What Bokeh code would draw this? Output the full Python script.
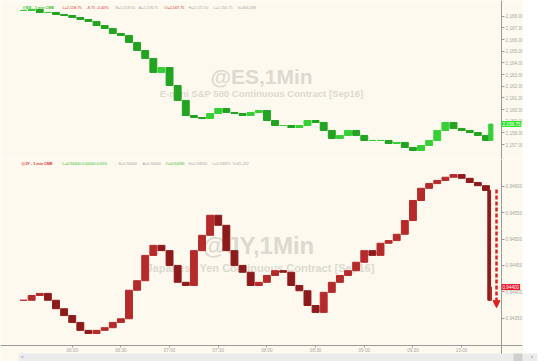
from bokeh.plotting import figure
from bokeh.layouts import column
from bokeh.models import (ColumnDataSource, Range1d, FixedTicker, NumeralTickFormatter,
                          Label, Arrow, NormalHead, BoxAnnotation)
from bokeh.embed import file_html
from bokeh.resources import INLINE

# ---------------- data (minutes since midnight, prices) ----------------
es_times = [330, 335, 340, 345, 350, 355, 360, 365, 370, 375, 380, 385, 390, 395, 400, 405, 410,
            415, 420, 425, 430, 435, 440, 445, 450, 455, 460, 465, 470, 475, 480, 485, 490, 495,
            500, 505, 510, 515, 520, 525, 530, 535, 540, 545, 550, 555, 560, 565, 570, 575, 580,
            585, 590, 595, 600, 605, 610, 615, 618]
es_close = [2168.49, 2168.57, 2168.32, 2168.32, 2168.15, 2168.06, 2167.89, 2167.72, 2167.55,
            2167.20, 2166.95, 2166.52, 2166.35, 2165.75, 2165.06, 2164.38, 2163.18, 2163.60,
            2162.06, 2160.78, 2159.49, 2159.32, 2159.23, 2159.66, 2160.09, 2159.75, 2159.66,
            2159.49, 2159.75, 2159.92, 2159.06, 2158.63, 2158.63, 2158.46, 2158.63, 2159.06,
            2158.89, 2158.21, 2157.52, 2157.78, 2158.21, 2157.78, 2157.35, 2157.35, 2157.35,
            2157.09, 2157.18, 2156.75, 2156.49, 2156.92, 2157.35, 2158.21, 2158.89, 2158.38,
            2158.21, 2158.03, 2157.78, 2157.35, 2158.75]
jy_times = [330, 335, 340, 345, 350, 355, 360, 365, 370, 375, 380, 385, 390, 395, 400, 405, 410,
            415, 420, 425, 430, 435, 440, 445, 450, 455, 460, 465, 470, 475, 480, 485, 490, 495,
            500, 505, 510, 515, 520, 525, 530, 535, 540, 545, 550, 555, 560, 565, 570, 575, 580,
            585, 590, 595, 600, 605, 610, 615, 617, 618]
jy_close = [0.94384, 0.94393, 0.94397, 0.94384, 0.94368, 0.94355, 0.94342, 0.94327, 0.94321,
            0.94327, 0.94332, 0.94342, 0.94349, 0.94403, 0.94421, 0.94469, 0.94488, 0.94478,
            0.94450, 0.94418, 0.94412, 0.94478, 0.94507, 0.94545, 0.94526, 0.94478, 0.94450,
            0.94437, 0.94412, 0.94418, 0.94431, 0.94440, 0.94437, 0.94412, 0.94402, 0.94374,
            0.94361, 0.94399, 0.94418, 0.94431, 0.94440, 0.94456, 0.94478, 0.94469, 0.94492,
            0.94497, 0.94509, 0.94535, 0.94573, 0.94596, 0.94605, 0.94611, 0.94617, 0.94622,
            0.94615, 0.94607, 0.94601, 0.94592, 0.94384, 0.94409]

x_tick_labels = ["06:00", "06:30", "07:00", "07:30", "08:00", "08:30", "09:00", "09:30", "10:00"]
es_ticks = [2157, 2158, 2159, 2160, 2161, 2162, 2163, 2164, 2165, 2166, 2167, 2168]
jy_ticks = [0.9435, 0.9440, 0.9445, 0.9450, 0.9455, 0.9460]
es_last_label = "2,158.75"
jy_last_label = "0.94400"

CREAM = "#fdf9ee"
AX = "#9a9a9a"
FONT = "Liberation Sans"
WM = "#dcd9d0"
TICKFS = "4.6px"


def to_min(s):
    h, m = s.split(":")
    return int(h) * 60 + int(m)


x_ticks = [to_min(s) for s in x_tick_labels]
XR = (315.8, 651.7)      # visible time window (minutes), full page width
AXIS_AT = 624.65         # price scale sits at this time position
PANEL_END = 637.5        # chart background ends here (white page beyond)
TIME_AXIS_AT = 0.942983  # time axis sits at this level of the lower panel
STRIP_TOP = 0.942831


def candles(times, closes):
    o = [closes[0]] + closes[:-1]
    w = []
    for i in range(len(times)):
        dt = times[i] - times[i - 1] if i > 0 else times[1] - times[0]
        w.append(dt * 0.85)
    return dict(x=times, top=[max(a, b) for a, b in zip(o, closes)],
                bottom=[min(a, b) for a, b in zip(o, closes)],
                up=[c >= a for a, c in zip(o, closes)], w=w)


def style_fig(p):
    p.background_fill_color = CREAM
    p.border_fill_color = CREAM
    p.outline_line_color = None
    p.grid.visible = False
    ax = p.yaxis[0]
    ax.fixed_location = AXIS_AT
    ax.axis_line_color = AX
    ax.major_tick_line_color = AX
    ax.major_tick_out = 3
    ax.major_tick_in = 0
    ax.minor_tick_line_color = None
    ax.major_label_text_font = FONT
    ax.major_label_text_font_size = TICKFS
    ax.major_label_text_color = "#a8a8a8"
    ax.major_label_standoff = 1
    p.add_layout(BoxAnnotation(left=PANEL_END, fill_color="white", fill_alpha=1, line_color=None))


def header(p, items, y):
    for i, (t, x, c) in enumerate(items):
        p.add_layout(Label(x=x, y=y, x_units="screen", y_units="screen", text=t, text_font=FONT,
                           text_font_style="bold" if i == 0 else "normal", text_font_size="3.8px",
                           text_color=c, text_baseline="middle"))


def watermark(p, x, y, t, size):
    p.add_layout(Label(x=x, y=y, x_units="screen", y_units="screen", text=t, text_font=FONT,
                       text_font_style="bold", text_font_size=size, text_color=WM,
                       text_align="center", text_baseline="middle", level="underlay"))


# ---------------- top: ES ----------------
p1 = figure(frame_width=545, frame_height=159, x_range=Range1d(*XR), y_range=Range1d(2155.718, 2169.345),
            x_axis_location=None, y_axis_location="right", output_backend="svg",
            toolbar_location=None, min_border=0)
style_fig(p1)
p1.yaxis.ticker = FixedTicker(ticks=es_ticks)
p1.yaxis.formatter = NumeralTickFormatter(format="0,0.00")

watermark(p1, 261, 83, "@ES,1Min", "21px")
watermark(p1, 261, 66, "E-mini S&P 500 Continuous Contract [Sep16]", "9.5px")

d = candles(es_times, es_close)
d["color"] = ["#36cf36" if u else "#22a322" for u in d["up"]]
p1.vbar(x="x", top="top", bottom="bottom", width="w", color="color", source=ColumnDataSource(d))

header(p1, [("@ES - 1 min CME", 22, "#2fbf2f"), ("L=2,158.75", 62, "#e03030"), ("-8.75", 86, "#e03030"),
            ("-0.40%", 96, "#e03030"), ("B=2,158.50", 115, "#aaaaaa"), ("A=2,158.75", 138, "#aaaaaa"),
            ("O=2,167.75", 164, "#e03030"), ("H=2,172.50", 188, "#aaaaaa"), ("L=2,156.75", 213, "#aaaaaa"),
            ("V=466,588", 237, "#aaaaaa")], 152)

p1.add_layout(Label(x=501, y=es_close[-1], x_units="screen", y_units="data", text=es_last_label,
                    text_font=FONT, text_font_size=TICKFS, text_color="white",
                    background_fill_color="#2ee52e", text_baseline="middle", padding=1))

# ---------------- bottom: JY ----------------
p2 = figure(frame_width=545, frame_height=202, x_range=p1.x_range, y_range=Range1d(0.94268, 0.946506),
            y_axis_location="right", output_backend="svg", toolbar_location=None, min_border=0)
style_fig(p2)
p2.yaxis.ticker = FixedTicker(ticks=jy_ticks)
p2.yaxis.formatter = NumeralTickFormatter(format="0.00000")
xa = p2.xaxis[0]
xa.fixed_location = TIME_AXIS_AT
xa.ticker = FixedTicker(ticks=x_ticks)
xa.major_label_overrides = {float(t): s for t, s in zip(x_ticks, x_tick_labels)}
xa.axis_line_color = AX
xa.major_tick_line_color = AX
xa.major_tick_out = 2
xa.major_tick_in = 0
xa.minor_tick_line_color = None
xa.major_label_text_font = FONT
xa.major_label_text_font_size = TICKFS
xa.major_label_text_color = "#a8a8a8"
xa.major_label_standoff = 0

watermark(p2, 258, 116, "@JY,1Min", "24px")
watermark(p2, 260, 94, "Japanese Yen Continuous Contract [Sep16]", "11px")

d2 = candles(jy_times, jy_close)
d2["color"] = ["#b52a2a" if u else "#8e1b1b" for u in d2["up"]]
p2.vbar(x="x", top="top", bottom="bottom", width="w", color="color", source=ColumnDataSource(d2))

header(p2, [("@JY - 1 min CME", 21, "#e03030"), ("L=0.94400 0.00040 0.05%", 62, "#2fbf2f"),
            ("B=0.94400", 118, "#aaaaaa"), ("A=0.94400", 142, "#aaaaaa"), ("O=0.94280", 165, "#2fbf2f"),
            ("H=0.94690", 188, "#aaaaaa"), ("L=0.93875", 212, "#aaaaaa"), ("V=65,262", 232, "#aaaaaa")], 198)

p2.add_layout(Label(x=501, y=jy_close[-1], x_units="screen", y_units="data", text=jy_last_label,
                    text_font=FONT, text_font_size=TICKFS, text_color="white",
                    background_fill_color="#e8182a", text_baseline="middle", padding=1))

p2.add_layout(Arrow(x_start=621.5, y_start=0.94594, x_end=621.5, y_end=0.94370,
                    line_color="#e02020", line_width=2.5, line_dash="4 2",
                    end=NormalHead(size=7, fill_color="#e02020", line_color="#e02020")))

# scroll strip under the time axis
p2.add_layout(BoxAnnotation(left=326.9, right=646.8, top=STRIP_TOP, fill_color="#ececec",
                            fill_alpha=1, line_color=None))
p2.add_layout(BoxAnnotation(left=632.0, right=637.5, top=STRIP_TOP, fill_color="#cfcfcf",
                            fill_alpha=1, line_color=None))
p2.add_layout(Label(x=328.5, y=0.942756, text="<", text_font=FONT, text_font_size="4.5px",
                    text_color="#777777", text_baseline="middle"))
p2.add_layout(Label(x=642.5, y=0.942756, text=">", text_font=FONT, text_font_size="4.5px",
                    text_color="#777777", text_baseline="middle"))

layout = column(p1, p2, spacing=0)
open("out.html", "w").write(file_html(layout, INLINE))
